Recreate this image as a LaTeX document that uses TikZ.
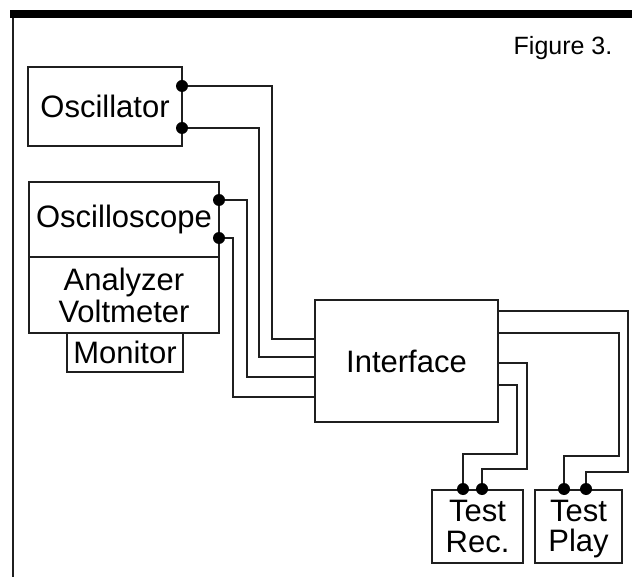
\documentclass[tikz,border=0pt]{standalone}
\usepackage{fontspec}
\setmainfont{Liberation Sans}
\begin{document}
\begin{tikzpicture}[x=1pt,y=-1pt,
  ink/.style={draw=black!88},
  txt/.style={font=\fontsize{31}{32}\selectfont},
  box/.style={ink,line width=2pt,rectangle,inner sep=0pt,align=center,txt},
  lbl/.style={txt,inner sep=0pt,anchor=base},
  wire/.style={ink,line width=2pt,line join=miter},
  dot/.style={circle,fill=black,inner sep=0pt,minimum size=12pt}]
\useasboundingbox (0,0) rectangle (632,577);
% frame
\fill[black] (10,10) rectangle (632,18.5);
\draw[ink,line width=2.2pt] (13,18) -- (13,577);
\node[font=\fontsize{25}{26}\selectfont,anchor=base] (fig) at (563,55) {Figure 3.};
% boxes
\node[box,minimum width=154pt,minimum height=79pt] (osc) at (105,106.5) {Oscillator};
\node[box,minimum width=190pt,minimum height=75pt] (scope) at (124,219.5) {Oscilloscope};
\node[box,minimum width=190pt,minimum height=76pt] (anal) at (124,295) {Analyzer\\Voltmeter};
\node[box,minimum width=116pt,minimum height=39pt] (mon) at (125,352.5) {Monitor};
\node[box,minimum width=183pt,minimum height=122pt] (iface) at (406.5,361) {Interface};
\node[box,minimum width=91pt,minimum height=73pt] (rec) at (477.5,526) {};
\node[box,minimum width=87pt,minimum height=73pt] (play) at (578.5,526) {};
\node[lbl] (rec1) at (rec.center |- 0,521) {Test};
\node[lbl] (rec2) at (rec.center |- 0,552) {Rec.};
\node[lbl] (play1) at (play.center |- 0,521) {Test};
\node[lbl] (play2) at (play.center |- 0,551) {Play};
% ports
\coordinate (o1) at (182,86);
\coordinate (o2) at (182,128);
\coordinate (s1) at (219,200);
\coordinate (s2) at (219,238);
\coordinate (il1) at (315,339);
\coordinate (il2) at (315,357);
\coordinate (il3) at (315,377);
\coordinate (il4) at (315,397);
\coordinate (ir1) at (498,311);
\coordinate (ir2) at (498,333);
\coordinate (ir3) at (498,363);
\coordinate (ir4) at (498,385);
\coordinate (r1) at (463,489);
\coordinate (r2) at (482,489);
\coordinate (p1) at (564,489);
\coordinate (p2) at (586,489);
% left wires
\draw[wire] (o1) -- (272,86) -- (272,339) -- (il1);
\draw[wire] (o2) -- (259,128) -- (259,357) -- (il2);
\draw[wire] (s1) -- (247,200) -- (247,377) -- (il3);
\draw[wire] (s2) -- (233,238) -- (233,397) -- (il4);
% right wires
\draw[wire] (ir1) -- (628,311) -- (628,472) -- (586,472) -- (p2);
\draw[wire] (ir2) -- (619,333) -- (619,456) -- (564,456) -- (p1);
\draw[wire] (ir3) -- (527,363) -- (527,469) -- (482,469) -- (r2);
\draw[wire] (ir4) -- (517,385) -- (517,454) -- (463,454) -- (r1);
% dots
\foreach \p in {o1,o2,s1,s2,r1,r2,p1,p2} \node[dot] at (\p) {};
\end{tikzpicture}
\end{document}
